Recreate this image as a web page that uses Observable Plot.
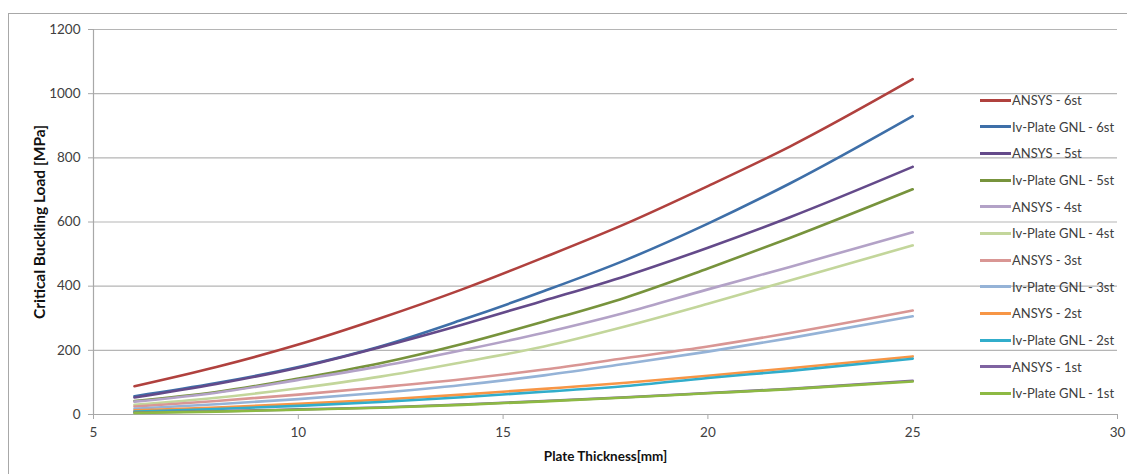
<!DOCTYPE html>
<html>
<head>
<meta charset="utf-8">
<script src="https://cdn.jsdelivr.net/npm/d3@7"></script>
<script src="https://cdn.jsdelivr.net/npm/@observablehq/plot@0.6"></script>
<style>
  html, body { margin: 0; padding: 0; background: #fff; }
  #wrap { position: relative; width: 1127px; height: 474px; overflow: hidden; font-family: Lato, "Open Sans", sans-serif; }
  #frame { position: absolute; left: 8px; top: 13px; width: 1300px; height: 700px; border: 1.5px solid #a8a8a8; box-sizing: border-box; }
  #chart { position: absolute; left: 0; top: 0; }
  #chart g[aria-label="y-axis label"] text { font-weight: bold; font-size: 15.5px; fill: #111; }
  #chart g[aria-label="x-axis label"] text { font-weight: bold; font-size: 13.5px; fill: #111; }
  #legend { position: absolute; left: 980px; top: 0; }
  .item { position: absolute; left: 0; height: 16px; display: flex; align-items: center; white-space: nowrap; font-size: 13px; color: #404040; }
  .swatch { width: 31px; height: 3px; margin-right: 1px; }
</style>
</head>
<body>
<div id="wrap">
  <div id="frame"></div>
  <div id="chart"></div>
  <div id="legend"></div>
</div>
<script>
// ---- data ----
const thickness = [6, 8, 10, 12, 14, 16, 18, 20, 22, 25];
const seriesNames = [
  "ANSYS - 6st", "Iv-Plate GNL - 6st",
  "ANSYS - 5st", "Iv-Plate GNL - 5st",
  "ANSYS - 4st", "Iv-Plate GNL - 4st",
  "ANSYS - 3st", "Iv-Plate GNL - 3st",
  "ANSYS - 2st", "Iv-Plate GNL - 2st",
  "ANSYS - 1st", "Iv-Plate GNL - 1st"
];
const ansys6 = [88, 148, 218, 300, 390, 490, 595, 712, 835, 1045];
const gnl6   = [57, 98, 148, 212, 295, 385, 482, 595, 720, 930];
const ansys5 = [53, 95, 146, 210, 280, 355, 432, 520, 615, 772];
const gnl5   = [42, 70, 112, 160, 220, 290, 365, 455, 550, 702];
const ansys4 = [40, 68, 108, 150, 200, 255, 318, 390, 460, 568];
const gnl4   = [30, 52, 82, 118, 163, 212, 275, 345, 418, 527];
const ansys3 = [25, 42, 62, 85, 110, 140, 176, 212, 254, 324];
const gnl3   = [18, 32, 48, 68, 92, 122, 158, 196, 238, 306];
const ansys2 = [13, 22, 33, 46, 62, 80, 99, 121, 144, 181];
const gnl2   = [9, 17, 27, 39, 54, 71, 89, 114, 136, 174];
const ansys1 = [6, 10, 16, 22, 31, 42, 54, 67, 80, 105];
const gnl1   = [5, 9, 15, 21, 30, 41, 53, 66, 79, 103];
const seriesValues = [ansys6, gnl6, ansys5, gnl5, ansys4, gnl4, ansys3, gnl3, ansys2, gnl2, ansys1, gnl1];
const seriesColors = [
  "#B0413E", "#3E6FA8",
  "#644A8A", "#77933C",
  "#B3A2C7", "#C3D69B",
  "#D99694", "#95B3D7",
  "#F79646", "#31ADCB",
  "#7F63A1", "#8DB943"
];
const xDomain = [5, 30];
const xTicks = [5, 10, 15, 20, 25, 30];
const yDomain = [0, 1200];
const yTicks = [0, 200, 400, 600, 800, 1000, 1200];
const xLabel = "Plate Thickness[mm]";
const yLabel = "Critical Buckling Load [MPa]";

// ---- build table ----
const rows = [];
seriesNames.forEach((name, i) => {
  thickness.forEach((t, j) => rows.push({series: name, order: i, x: t, y: seriesValues[i][j]}));
});

const fmt = d => String(d);
const chart = Plot.plot({
  width: 1127,
  height: 474,
  marginLeft: 93,
  marginRight: 10,
  marginTop: 29,
  marginBottom: 60,
  style: { fontFamily: "Lato, 'Open Sans', sans-serif", fontSize: "13.5px", color: "#404040", background: "transparent", overflow: "visible" },
  x: { domain: xDomain, ticks: xTicks, tickFormat: fmt },
  y: { domain: yDomain, ticks: yTicks, tickFormat: fmt },
  color: { domain: seriesNames, range: seriesColors },
  marks: [
    Plot.gridY(yTicks, { stroke: "#b5b5b5", strokeOpacity: 1, strokeWidth: 1.2 }),
    Plot.ruleX([xDomain[0]], { stroke: "#a8a8a8", strokeWidth: 1.2 }),
    Plot.ruleY([yDomain[0]], { stroke: "#a8a8a8", strokeWidth: 1.2 }),
    Plot.axisY(yTicks, { tickSize: 5, tickPadding: 8, tickFormat: fmt, stroke: "#a8a8a8", label: yLabel, labelAnchor: "center", labelArrow: "none", labelOffset: 60 }),
    Plot.axisX(xTicks, { tickSize: 5, tickPadding: 8, tickFormat: fmt, stroke: "#a8a8a8", label: xLabel, labelAnchor: "center", labelArrow: "none", labelOffset: 46 }),
    ...seriesNames.map((name, i) =>
      Plot.line(rows.filter(r => r.series === name), { x: "x", y: "y", stroke: () => name, strokeWidth: 2.6, curve: "monotone-x" })
    )
  ]
});
document.getElementById("chart").appendChild(chart);

// ---- legend ----
const legend = document.getElementById("legend");
seriesNames.forEach((name, i) => {
  const item = document.createElement("div");
  item.className = "item";
  item.style.top = (92 + i * 26.67) + "px";
  const sw = document.createElement("span");
  sw.className = "swatch";
  sw.style.background = seriesColors[i];
  const tx = document.createElement("span");
  tx.textContent = name;
  item.appendChild(sw);
  item.appendChild(tx);
  legend.appendChild(item);
});
</script>
</body>
</html>
